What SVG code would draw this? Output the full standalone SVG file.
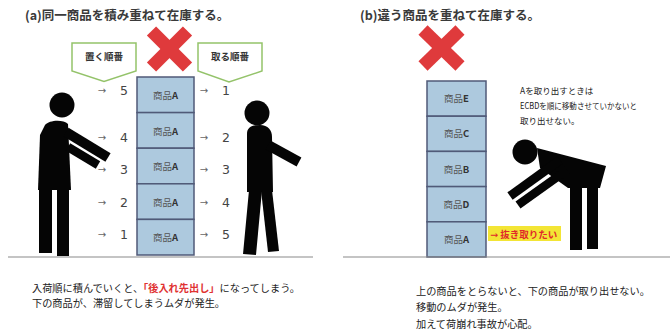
<svg xmlns="http://www.w3.org/2000/svg" width="670" height="336" viewBox="0 0 670 336">
  <style>
    text { font-family: "Noto Sans CJK JP", "Noto Sans", sans-serif; }
    .title { font-size: 12.5px; font-weight: bold; fill: #3a3a3a; }
    .body { font-size: 10.2px; fill: #222; }
    .note { font-size: 8.5px; fill: #222; }
    .box { fill: #adc9de; stroke: #505a78; stroke-width: 1.5; }
    .lbl { font-size: 9.5px; fill: #555; text-anchor: middle; }
    .lbl tspan { font-weight: bold; fill: #333; }
    .arr { font-family: "DejaVu Sans", sans-serif; font-size: 10px; fill: #666; text-anchor: middle; }
    .num { font-family: "DejaVu Sans", sans-serif; font-size: 12.5px; fill: #444; text-anchor: middle; }
    .callout { fill: #fff; stroke: #94c36a; stroke-width: 1.5; }
    .ctext { font-size: 9.5px; font-weight: bold; fill: #333; text-anchor: middle; }
    .cross { stroke: #df3a3c; stroke-width: 13; stroke-linecap: butt; }
    .ground { stroke: #8a8a8a; stroke-width: 1.2; }
    .fig { fill: #050505; }
    .limb { stroke: #050505; stroke-linecap: butt; }
  </style>

  <!-- Panel (a): same goods stacked -->
  <g id="panel-a">
    <text class="title" x="25" y="20">(a)同一商品を積み重ねて在庫する。</text>

    <g id="cross-a">
      <line class="cross" x1="151.5" y1="31" x2="187.5" y2="67"/>
      <line class="cross" x1="187.5" y1="31" x2="151.5" y2="67"/>
    </g>

    <g id="callout-put">
      <path class="callout" d="M72,43 H136 V71 L104,81.5 L72,71 Z"/>
      <text class="ctext" x="104" y="60">置く順番</text>
    </g>
    <g id="callout-take">
      <path class="callout" d="M198,43 H262 V71 L229,82 L198,71 Z"/>
      <text class="ctext" x="230" y="60">取る順番</text>
    </g>

    <g id="stack-a">
      <rect class="box" x="137" y="77" width="57" height="35.6"/>
      <rect class="box" x="137" y="112.6" width="57" height="35.6"/>
      <rect class="box" x="137" y="148.2" width="57" height="35.6"/>
      <rect class="box" x="137" y="183.8" width="57" height="35.6"/>
      <rect class="box" x="137" y="219.4" width="57" height="35.6"/>
      <text class="lbl" x="165.5" y="99">商品<tspan>A</tspan></text>
      <text class="lbl" x="165.5" y="134.5">商品<tspan>A</tspan></text>
      <text class="lbl" x="165.5" y="170">商品<tspan>A</tspan></text>
      <text class="lbl" x="165.5" y="205.5">商品<tspan>A</tspan></text>
      <text class="lbl" x="165.5" y="241">商品<tspan>A</tspan></text>
    </g>

    <g id="order-put">
      <text class="arr" x="102" y="94">→</text><text class="num" x="124" y="95">5</text>
      <text class="arr" x="102" y="141">→</text><text class="num" x="124" y="142">4</text>
      <text class="arr" x="102" y="173">→</text><text class="num" x="124" y="174">3</text>
      <text class="arr" x="102" y="206">→</text><text class="num" x="124" y="207">2</text>
      <text class="arr" x="102" y="238">→</text><text class="num" x="124" y="239">1</text>
    </g>
    <g id="order-take">
      <text class="arr" x="204" y="94">→</text><text class="num" x="226" y="95">1</text>
      <text class="arr" x="204" y="141">→</text><text class="num" x="226" y="142">2</text>
      <text class="arr" x="204" y="173">→</text><text class="num" x="226" y="174">3</text>
      <text class="arr" x="204" y="206">→</text><text class="num" x="226" y="207">4</text>
      <text class="arr" x="204" y="238">→</text><text class="num" x="226" y="239">5</text>
    </g>

    <g id="person-put">
      <circle class="fig" cx="62" cy="105" r="12.5"/>
      <path class="fig" d="M45,125 C49,120 63,119 68,124 L71,190 L38,190 L40,135 Z"/>
      <line class="limb" x1="66" y1="132" x2="108" y2="157.5" stroke-width="10"/>
      <line class="limb" x1="68" y1="147" x2="98" y2="165" stroke-width="8.5"/>
      <rect class="fig" x="39" y="188" width="13" height="65"/>
      <rect class="fig" x="57" y="188" width="12" height="68"/>
    </g>

    <g id="person-take">
      <circle class="fig" cx="257" cy="113" r="12.5"/>
      <path class="fig" d="M247,134 C247,127 252,125 260,125 C268,125 272,130 272,137 L273,192 L247,192 Z"/>
      <line class="limb" x1="268" y1="145" x2="299" y2="162" stroke-width="10"/>
      <polygon class="fig" points="249,190 262,190 256,255 243,254"/>
      <polygon class="fig" points="261,190 272,190 279,251 268,252"/>
    </g>

    <line class="ground" x1="8" y1="257" x2="313" y2="257"/>

    <text class="body" x="32" y="292">入荷順に積んでいくと、<tspan fill="#e03232" font-weight="bold">「後入れ先出し」</tspan>になってしまう。</text>
    <text class="body" x="32" y="307">下の商品が、滞留してしまうムダが発生。</text>
  </g>

  <!-- Panel (b): different goods stacked -->
  <g id="panel-b">
    <text class="title" x="360" y="20">(b)違う商品を重ねて在庫する。</text>

    <g id="cross-b">
      <line class="cross" x1="423" y1="30" x2="460" y2="66"/>
      <line class="cross" x1="460" y1="30" x2="423" y2="66"/>
    </g>

    <g id="stack-b">
      <rect class="box" x="427" y="81" width="59" height="35.2"/>
      <rect class="box" x="427" y="116.2" width="59" height="35.2"/>
      <rect class="box" x="427" y="151.4" width="59" height="35.2"/>
      <rect class="box" x="427" y="186.6" width="59" height="35.2"/>
      <rect class="box" x="427" y="221.8" width="59" height="35.2"/>
      <text class="lbl" x="456.5" y="102">商品<tspan>E</tspan></text>
      <text class="lbl" x="456.5" y="137">商品<tspan>C</tspan></text>
      <text class="lbl" x="456.5" y="172.5">商品<tspan>B</tspan></text>
      <text class="lbl" x="456.5" y="207.5">商品<tspan>D</tspan></text>
      <text class="lbl" x="456.5" y="243">商品<tspan>A</tspan></text>
    </g>

    <g id="note-b">
      <text class="note" x="520" y="94">Aを取り出すときは</text>
      <text class="note" x="520" y="109" textLength="117" lengthAdjust="spacingAndGlyphs">ECBDを順に移動させていかないと</text>
      <text class="note" x="520" y="124">取り出せない。</text>
    </g>

    <g id="tag-pull">
      <rect x="488" y="226" width="73" height="15" fill="#f3e535"/>
      <text x="490" y="237.5" font-size="9.5" font-weight="bold" fill="#e0282a"><tspan font-family="DejaVu Sans, sans-serif" font-weight="normal">→</tspan> 抜き取りたい</text>
    </g>

    <g id="person-bent">
      <circle class="fig" cx="525" cy="152" r="12.5"/>
      <polygon class="fig" points="537,148 606,166 600,188 568,188 540,168"/>
      <line class="limb" x1="560" y1="160" x2="510" y2="196" stroke-width="9"/>
      <line class="limb" x1="567" y1="170" x2="518" y2="205" stroke-width="8.5"/>
      <rect class="fig" x="570" y="183" width="12" height="67"/>
      <rect class="fig" x="587" y="183" width="11" height="66"/>
    </g>

    <line class="ground" x1="343" y1="257" x2="670" y2="257"/>

    <text class="body" x="416" y="295">上の商品をとらないと、下の商品が取り出せない。</text>
    <text class="body" x="416" y="311">移動のムダが発生。</text>
    <text class="body" x="416" y="328">加えて荷崩れ事故が心配。</text>
  </g>
</svg>
